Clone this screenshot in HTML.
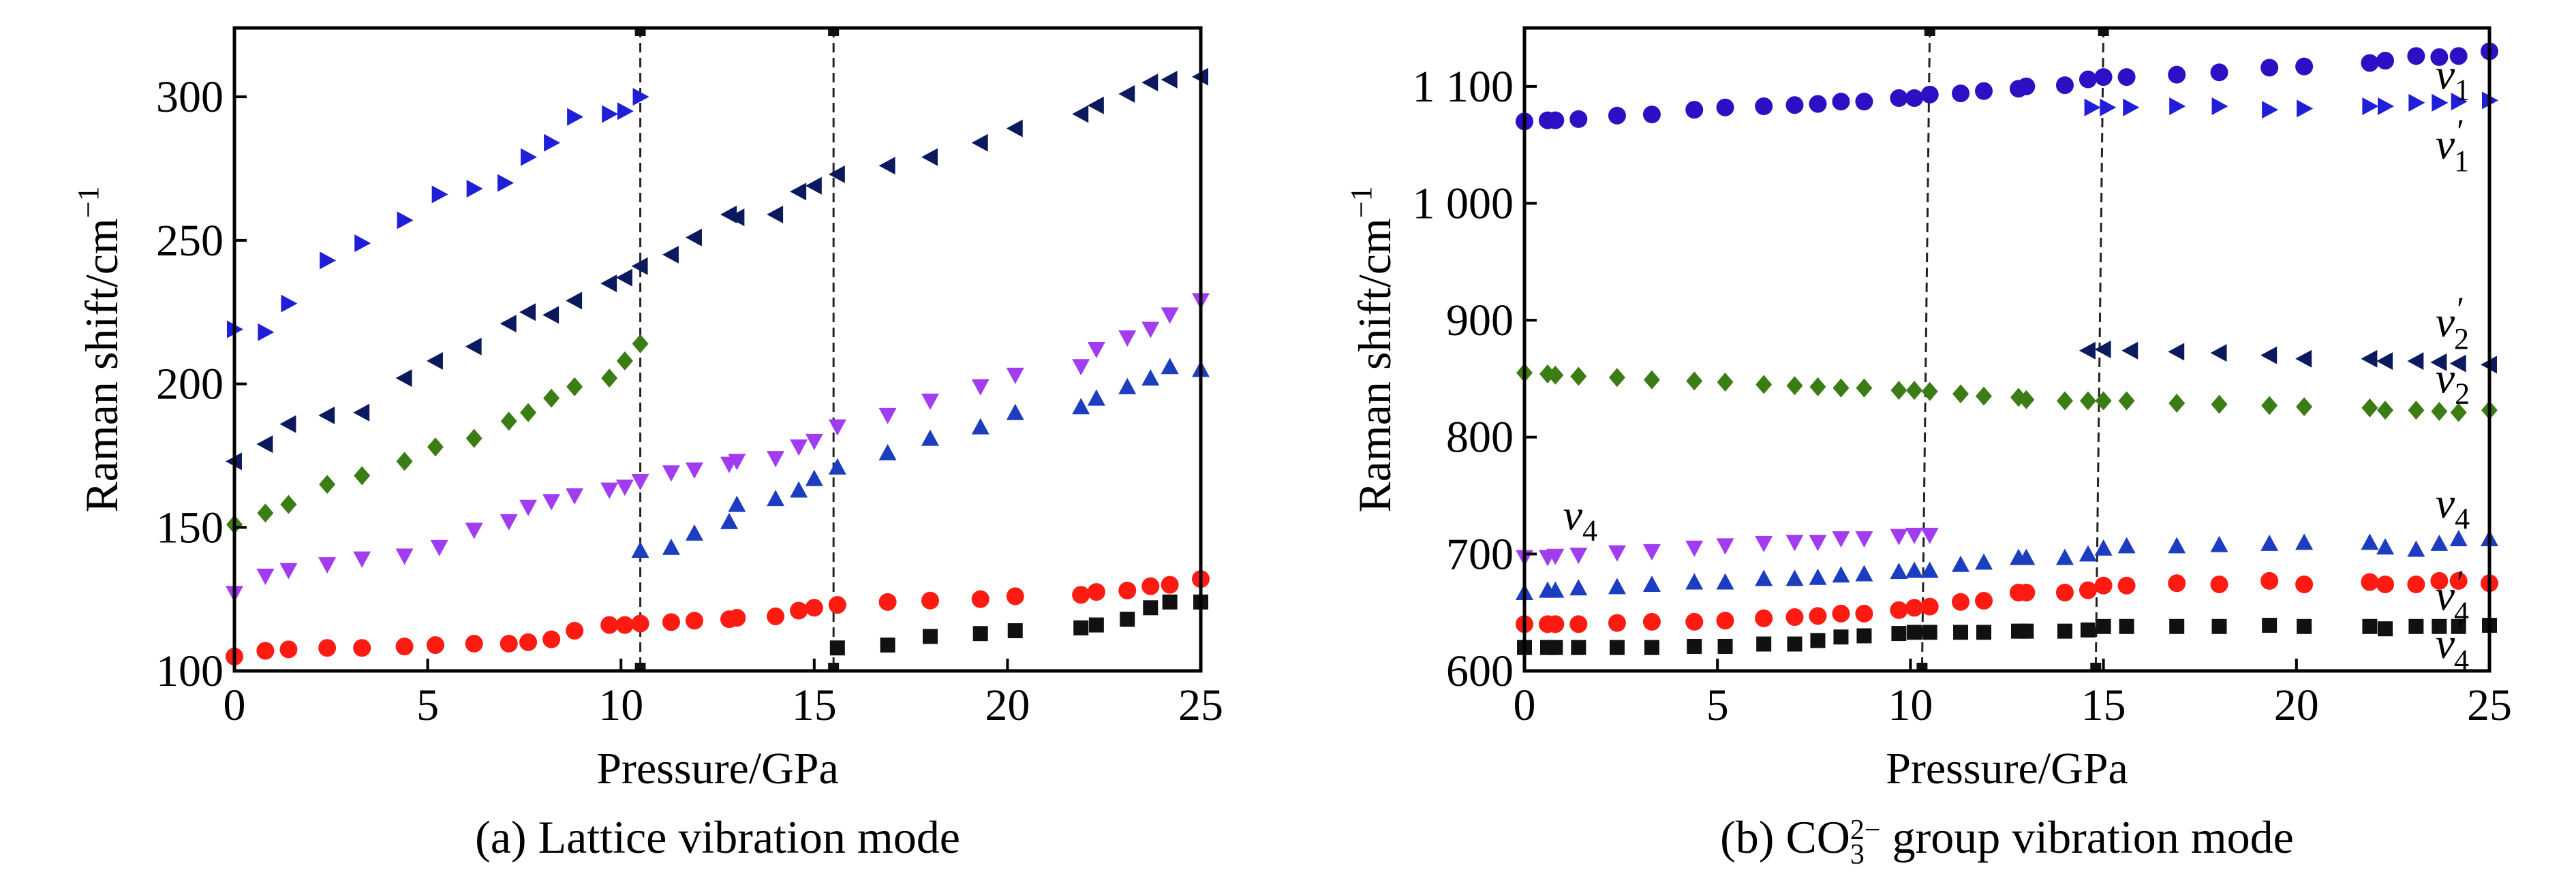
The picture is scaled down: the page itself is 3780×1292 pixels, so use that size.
<!DOCTYPE html>
<html><head><meta charset="utf-8">
<style>
html,body{margin:0;padding:0;background:#fff;}
svg, svg text, svg tspan{font-family:"Liberation Serif","DejaVu Serif","Noto Serif CJK SC",serif !important;}
</style></head>
<body>
<svg id="chart" width="3780" height="1287" viewBox="0 0 3780 1287" xmlns="http://www.w3.org/2000/svg"></svg>
<script>
// ---------- Panel (a) data ----------
const aRightTriX=[0,0.8,1.4,2.4,3.3,4.4,5.3,6.2,7,7.6,8.2,8.8,9.7,10.1,10.5];
const aRightTriY=[219,218,228,243,249,257,266,268,270,279,284,293,294,295,300];
const aLeftTriX=[0,0.8,1.4,2.4,3.3,4.4,5.2,6.2,7.1,7.6,8.2,8.8,9.7,10.1,10.5,11.3,11.9,12.8,13,14,14.6,15,15.6,16.9,18,19.3,20.2,21.9,22.3,23.1,23.7,24.2,25];
const aLeftTriY=[173,179,186,189,190,202,208,213,221,225,224,229,235,237,241,245,251,259,258,259,267,269,273,276,279,284,289,294,297,301,305,306,307];
const aDiamondX=[0,0.8,1.4,2.4,3.3,4.4,5.2,6.2,7.1,7.6,8.2,8.8,9.7,10.1,10.5];
const aDiamondY=[151,155,158,165,168,173,178,181,187,190,195,199,202,208,214];
const aDownTriX=[0,0.8,1.4,2.4,3.3,4.4,5.3,6.2,7.1,7.6,8.2,8.8,9.7,10.1,10.5,11.3,11.9,12.8,13,14,14.6,15,15.6,16.9,18,19.3,20.2,21.9,22.3,23.1,23.7,24.2,25];
const aDownTriY=[127,133,135,137,139,140,143,149,152,157,159,161,163,164,166,169,170,172,173,174,178,180,185,189,194,199,203,206,212,216,219,224,229];
const aUpTriX=[10.5,11.3,11.9,12.8,13,14,14.6,15,15.6,16.9,18,19.3,20.2,21.9,22.3,23.1,23.7,24.2,25];
const aUpTriY=[142,143,148,152,158,160,163,167,171,176,181,185,190,192,195,199,202,206,205];
const aCircleX=[0,0.8,1.4,2.4,3.3,4.4,5.2,6.2,7.1,7.6,8.2,8.8,9.7,10.1,10.5,11.3,11.9,12.8,13,14,14.6,15,15.6,16.9,18,19.3,20.2,21.9,22.3,23.1,23.7,24.2,25];
const aCircleY=[105,107,107.5,108,108,108.5,109,109.5,109.5,110,111,114,116,116,116.5,117,117.5,118,118.5,119,121,122,123,124,124.5,125,126,126.5,127.5,128,129.5,130,132];
const aSquareX=[15.6,16.9,18,19.3,20.2,21.9,22.3,23.1,23.7,24.2,25];
const aSquareY=[108,109,112,113,114,115,116,118,122,124,124];
const aTransitions=[10.5,15.5];
const aYTicks=[100,150,200,250,300];
const xTicks=[0,5,10,15,20,25];

// ---------- Panel (b) data ----------
const bCircleX=[0,0.6,0.8,1.4,2.4,3.3,4.4,5.2,6.2,7,7.6,8.2,8.8,9.7,10.1,10.5,11.3,11.9,12.8,13,14,14.6,15,15.6,16.9,18,19.3,20.2,21.9,22.3,23.1,23.7,24.2,25];
const bV1Y=[1070,1071,1071,1072,1075,1076,1080,1082,1083,1084,1085,1087,1087,1090,1090,1093,1094,1096,1098,1100,1101,1106,1108,1108,1110,1112,1116,1117,1120,1122,1126,1125,1126,1130];
const bV1pX=[14.7,15.1,15.7,16.9,18,19.3,20.2,21.9,22.3,23.1,23.7,24.2,25];
const bV1pY=[1082,1082,1082,1083,1083,1080,1081,1083,1083,1086,1086,1087,1088];
const bV2pX=[14.6,15,15.7,16.9,18,19.3,20.2,21.9,22.3,23.1,23.7,24.2,25];
const bV2pY=[874,875,874,873,872,870,867,867,865,865,864,863,862];
const bV2Y=[855,854,853,852,851,849,848,847,845,844,843,842,842,840,840,839,837,835,834,832,831,831,831,831,829,828,827,826,825,823,823,822,821,823];
const bDownX=[0,0.6,0.8,1.4,2.4,3.3,4.4,5.2,6.2,7,7.6,8.2,8.8,9.7,10.1,10.5];
const bDownY=[697,697,698,699,701,702,705,707,709,710,710,713,713,715,716,716];
const bUpY=[667,669,669,671,672,674,676,676,679,679,680,682,683,685,686,686,691,693,697,697,697,700,705,707,707,708,709,710,710,706,704,709,713,713];
const bRedY=[640,640,640,640,641,642,642,643,645,646,647,649,649,652,654,655,659,660,667,667,667,669,673,673,675,674,677,674,676,674,674,677,677,675];
const bSquareY=[620,620,620,620,620,620,621,621,623,623,626,629,630,632,633,633,633,633,634,634,634,635,638,638,638,638,639,638,638,636,638,638,638,639];
const bTransitions=[10.3,14.8];
const bYTicks=[600,700,800,900,1000,1100];
const bYTickLabels=["600","700","800","900","1 000","1 100"];

const NS="http://www.w3.org/2000/svg";
const svg=document.getElementById('chart');
function mk(tag,attrs,parent){const e=document.createElementNS(NS,tag);for(const k in attrs)e.setAttribute(k,attrs[k]);if(tag==='text')e.style.fontFamily='"Liberation Serif","DejaVu Serif",serif';(parent||svg).appendChild(e);return e;}

function marker(g,shape,cx,cy,color){
  let e;
  if(shape==='circle'){e=mk('circle',{cx:cx,cy:cy,r:13,fill:color},g);}
  else if(shape==='square'){e=mk('rect',{x:cx-11,y:cy-11,width:22,height:22,fill:color},g);}
  else if(shape==='diamond'){e=mk('polygon',{points:`${cx},${cy-14} ${cx+12},${cy} ${cx},${cy+14} ${cx-12},${cy}`,fill:color},g);}
  else if(shape==='up'){e=mk('polygon',{points:`${cx},${cy-13} ${cx+13},${cy+11} ${cx-13},${cy+11}`,fill:color},g);}
  else if(shape==='down'){e=mk('polygon',{points:`${cx},${cy+13} ${cx+13},${cy-11} ${cx-13},${cy-11}`,fill:color},g);}
  else if(shape==='right'){e=mk('polygon',{points:`${cx+13},${cy} ${cx-11},${cy-13} ${cx-11},${cy+13}`,fill:color},g);}
  else if(shape==='left'){e=mk('polygon',{points:`${cx-13},${cy} ${cx+11},${cy-13} ${cx+11},${cy+13}`,fill:color},g);}
  return e;
}

function panel(opt){
  const L=opt.L,R=opt.R,T=41,B=985;
  const sx=v=>L+(v-0)/25*(R-L);
  const sy=v=>B-(v-opt.ymin)/(opt.ymax-opt.ymin)*(B-T);
  const g=mk('g',{});
  
  
  opt.trans.forEach((t,i)=>{
    const ln=mk('line',{x1:sx(t+(opt.slant?0.2:0)),y1:T,x2:sx(t),y2:B,stroke:'#222','stroke-width':3,'stroke-dasharray':'14,8'},g);
    
    
    mk('rect',{x:sx(t+(opt.slant?0.2:0))-8,y:T,width:16,height:12,fill:'#111'},g);
    mk('rect',{x:sx(t)-8,y:B-12,width:16,height:12,fill:'#111'},g);
  });
  opt.series.forEach(s=>{
    const sg=mk('g',{},g);
    
    
    s.x.forEach((xv,i)=>{
      const m=marker(sg,s.shape,sx(xv),sy(s.y[i]),s.color);
      
      
    });
  });
  const fr=mk('rect',{x:L,y:T,width:R-L,height:B-T,fill:'none',stroke:'#000','stroke-width':5},g);
  
  
  xTicks.forEach(t=>{
    mk('line',{x1:sx(t),y1:B,x2:sx(t),y2:B-18,stroke:'#000','stroke-width':4},g);
    const tx=mk('text',{x:sx(t),y:B+72,'font-size':66,'text-anchor':'middle',fill:'#000'},g);
    tx.textContent=t;
    
    
  });
  opt.yt.forEach((t,i)=>{
    mk('line',{x1:L,y1:sy(t),x2:L+18,y2:sy(t),stroke:'#000','stroke-width':4},g);
    const tx=mk('text',{x:L-16,y:sy(t)+22,'font-size':66,'text-anchor':'end',fill:'#000'},g);
    tx.textContent=opt.ytl?opt.ytl[i]:t;
    
    
  });
  const xt=mk('text',{x:(L+R)/2,y:1150,'font-size':66,'text-anchor':'middle',fill:'#000'},g);
  xt.textContent='Pressure/GPa';
  
  
  const yt=mk('text',{transform:`translate(${opt.ytx},513) rotate(-90)`,'font-size':68,'text-anchor':'middle',fill:'#000'},g);
  yt.innerHTML='Raman shift/cm<tspan dy="-28" font-size="44">−1</tspan>';
  
  
  return {sx,sy,g};
}

const pa=panel({name:'panel-a-lattice',L:344,R:1762,ymin:100,ymax:324,yt:aYTicks,ytx:172,trans:aTransitions,
 series:[
  {name:'series-right-triangle',shape:'right',color:'#1f1fd8',x:aRightTriX,y:aRightTriY},
  {name:'series-left-triangle',shape:'left',color:'#0b1a5e',x:aLeftTriX,y:aLeftTriY},
  {name:'series-diamond',shape:'diamond',color:'#3b7d14',x:aDiamondX,y:aDiamondY},
  {name:'series-down-triangle',shape:'down',color:'#a13cf0',x:aDownTriX,y:aDownTriY},
  {name:'series-up-triangle',shape:'up',color:'#1c3dbf',x:aUpTriX,y:aUpTriY},
  {name:'series-circle',shape:'circle',color:'#ff1a12',x:aCircleX,y:aCircleY},
  {name:'series-square',shape:'square',color:'#111',x:aSquareX,y:aSquareY}
 ]});

const pb=panel({name:'panel-b-co3',L:2237,R:3653,ymin:600,ymax:1150,yt:bYTicks,ytl:bYTickLabels,ytx:2040,trans:bTransitions,slant:true,
 series:[
  {name:'series-v1',shape:'circle',color:'#2b10c4',x:bCircleX,y:bV1Y},
  {name:'series-v1-prime',shape:'right',color:'#1f1fd8',x:bV1pX,y:bV1pY},
  {name:'series-v2-prime',shape:'left',color:'#0b1a5e',x:bV2pX,y:bV2pY},
  {name:'series-v2',shape:'diamond',color:'#3b7d14',x:bCircleX,y:bV2Y},
  {name:'series-v4-down',shape:'down',color:'#a13cf0',x:bDownX,y:bDownY},
  {name:'series-v4-up',shape:'up',color:'#1c3dbf',x:bCircleX,y:bUpY},
  {name:'series-v4-circle',shape:'circle',color:'#ff1a12',x:bCircleX,y:bRedY},
  {name:'series-v4-square',shape:'square',color:'#111',x:bCircleX,y:bSquareY}
 ]});

const modeLabels=[[23.6,1098,'1',false],[23.6,1038,'1',true],[23.6,886,'2',true],[23.6,838,'2',false],[23.6,731,'4',false],[23.6,652,'4',true],[23.6,611,'4',true],[1.0,721,'4',false]];
modeLabels.forEach(m=>{
  const t=mk('text',{x:pb.sx(m[0]),y:pb.sy(m[1]),'font-size':64,'font-style':'italic',fill:'#000'});
  t.innerHTML='ν'+(m[3]?'<tspan font-size="50" dy="-24">′</tspan><tspan font-size="44" dy="42" dx="-12" font-style="normal">'+m[2]+'</tspan>':'<tspan font-size="44" dy="16" font-style="normal">'+m[2]+'</tspan>');
  
  
});

const ca=mk('text',{x:1053,y:1252,'font-size':68,'text-anchor':'middle',fill:'#000'});
ca.textContent='(a) Lattice vibration mode';


const cb=mk('text',{x:2945,y:1252,'font-size':68,'text-anchor':'middle',fill:'#000'});
cb.innerHTML='(b) CO<tspan font-size="42" dy="16">3</tspan><tspan font-size="42" dy="-36" dx="-21">2−</tspan><tspan dy="20"> group vibration mode</tspan>';


</script>
</body></html>
